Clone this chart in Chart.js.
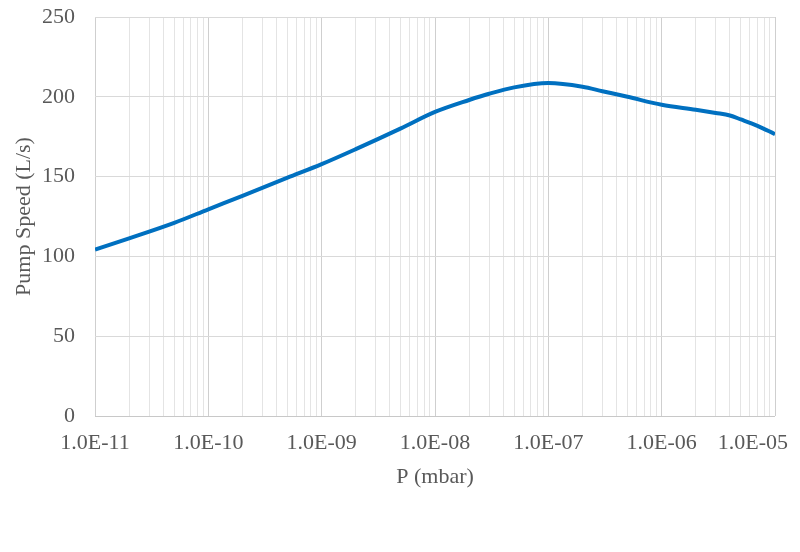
<!DOCTYPE html>
<html lang="en">
<head>
<meta charset="UTF-8">
<title>Pump Speed vs Pressure</title>
<script src="https://cdn.jsdelivr.net/npm/chart.js"></script>
<style>
    html, body { margin: 0; padding: 0; background: #fff; }
    #wrap { width: 800px; height: 552px; }
</style>
</head>
<body>
<div id="wrap"><canvas id="speedChart"></canvas></div>
<script>
    // Pressure (mbar) and pump speed (L/s)
    const pressure = [1e-11, 2e-11, 5e-11, 1e-10, 2e-10, 5e-10, 1e-9, 2e-9, 5e-9, 1e-8,
                      2e-8, 3e-8, 5e-8, 1e-7, 2e-7, 3e-7, 5e-7, 1e-6, 2e-6, 3e-6,
                      4e-6, 5e-6, 7e-6, 1e-5];
    const pumpSpeed = [104.3, 111.3, 121, 129.5, 137.9, 149.3, 157.8, 167.2, 180.2, 190.5,
                       198, 201.9, 205.9, 208.6, 206.3, 203.5, 200, 195, 191.9, 189.9,
                       188.3, 185.8, 181.8, 176.6];

    const decadeTicks = [1e-11, 1e-10, 1e-9, 1e-8, 1e-7, 1e-6, 1e-5];
    const decadeLabels = ['1.0E-11', '1.0E-10', '1.0E-09', '1.0E-08', '1.0E-07', '1.0E-06', '1.0E-05'];

    const FONT = '"Liberation Serif", "Times New Roman", serif';
    const TEXT = '#595959';

    function isDecade(v) {
        let l = Math.log10(v);
        return Math.abs(l - Math.round(l)) < 1e-6;
    }

    // x tick labels drawn by hand so the last one can sit inside the canvas like the original
    const xLabelPlugin = {
        id: 'xLabels',
        afterDraw(chart) {
            const ctx = chart.ctx;
            const xs = chart.scales.x;
            ctx.save();
            ctx.font = '22px ' + FONT;
            ctx.fillStyle = TEXT;
            ctx.textBaseline = 'middle';
            decadeTicks.forEach((v, i) => {
                let x = xs.getPixelForValue(v);
                if (i === decadeTicks.length - 1) {
                    ctx.textAlign = 'right';
                    x += 13;
                } else {
                    ctx.textAlign = 'center';
                }
                ctx.fillText(decadeLabels[i], x, chart.chartArea.bottom + 27);
            });
            ctx.restore();
        }
    };

    new Chart(document.getElementById('speedChart'), {
        type: 'line',
        data: {
            datasets: [{
                data: pressure.map((p, i) => ({ x: p, y: pumpSpeed[i] })),
                borderColor: '#0070C0',
                borderWidth: 4,
                pointRadius: 0,
                fill: false,
                cubicInterpolationMode: 'monotone'
            }]
        },
        options: {
            responsive: true,
            maintainAspectRatio: false,
            animation: false,
            layout: { padding: { top: 17, right: 25, bottom: 0, left: 0 } },
            plugins: {
                legend: { display: false },
                tooltip: { enabled: false }
            },
            scales: {
                x: {
                    type: 'logarithmic',
                    min: 1e-11,
                    max: 1e-5,
                    afterBuildTicks(scale) {
                        let t = [];
                        for (let e = -11; e <= -5; e++) {
                            for (let m = 1; m <= 9; m++) {
                                let v = Number(m + 'e' + e);
                                if (v <= 1e-5) t.push({ value: v });
                            }
                        }
                        scale.ticks = t;
                    },
                    afterFit(scale) { scale.height = 136; },
                    ticks: { display: false },
                    border: { display: false },
                    grid: {
                        drawTicks: false,
                        color: c => isDecade(c.tick.value) ? '#cfcfcf' : '#e4e4e4',
                        lineWidth: 1
                    },
                    title: {
                        display: true,
                        text: 'P (mbar)',
                        color: TEXT,
                        font: { family: FONT, size: 22 },
                        padding: { top: 0, bottom: 62 }
                    }
                },
                y: {
                    min: 0,
                    max: 250,
                    afterFit(scale) {
                        scale.width = 95;
                        scale.paddingTop = 0;
                        scale.paddingBottom = 0;
                    },
                    ticks: {
                        stepSize: 50,
                        padding: 20,
                        color: TEXT,
                        font: { family: FONT, size: 22 }
                    },
                    border: { display: false },
                    grid: {
                        drawTicks: false,
                        color: c => c.tick.value === 0 ? '#c8c8c8' : '#d9d9d9'
                    },
                    title: {
                        display: true,
                        text: 'Pump Speed (L/s)',
                        color: TEXT,
                        font: { family: FONT, size: 22 },
                        padding: { top: 11, bottom: 11 }
                    }
                }
            }
        },
        plugins: [xLabelPlugin]
    });
</script>
</body>
</html>
